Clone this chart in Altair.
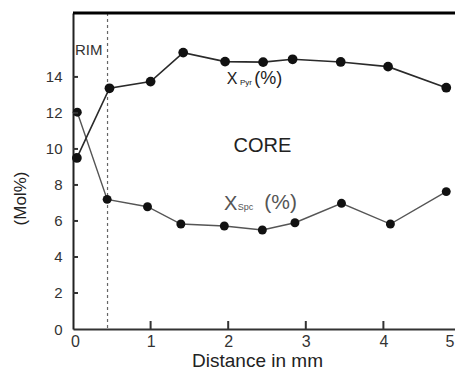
import altair as alt
import pandas as pd

# ---- data ----
pyr_x = [0.05, 0.47, 1.00, 1.42, 1.96, 2.45, 2.83, 3.45, 4.06, 4.81]
pyr_y = [9.50, 13.37, 13.74, 15.35, 14.85, 14.82, 14.98, 14.83, 14.57, 13.40]
spc_x = [0.055, 0.44, 0.96, 1.39, 1.95, 2.44, 2.86, 3.46, 4.09, 4.81]
spc_y = [12.04, 7.20, 6.79, 5.83, 5.72, 5.50, 5.90, 6.98, 5.83, 7.63]
x_ticks = [0, 1, 2, 3, 4, 5]
y_ticks = [0, 2, 4, 6, 8, 10, 12, 14]
rim_x = [0.445]

W, H = 388, 316
FONT = "Liberation Sans"

xs = alt.Scale(domain=[0, 5], nice=False, zero=False)
ys = alt.Scale(domain=[0, 17.55], nice=False, zero=False)

X = alt.X("x:Q", scale=xs, axis=alt.Axis(
    values=x_ticks, format="d", ticks=False, grid=False,
    domainColor="#333", domainWidth=2,
    labelFont=FONT, labelFontSize=16, labelColor="#333", labelPadding=4,
    labelAlign={"expr": "datum.value == 5 ? 'right' : 'center'"},
    labelOffset={"expr": "datum.value == 5 ? -7 : (datum.value == 0 ? 2 : 0)"},
    title="Distance in mm", titleFont=FONT, titleFontSize=19, titleFontWeight="normal",
    titleColor="#222", titleX=184, titleY=37, titleBaseline="alphabetic", titleAnchor="start",
    titleAlign="center"))
Y = alt.Y("y:Q", scale=ys, axis=alt.Axis(
    values=y_ticks, format="d", ticks=False, grid=False,
    domainColor="#222", domainWidth=2,
    labelFont=FONT, labelFontSize=15, labelColor="#333", labelPadding=11,
    title="(Mol%)", titleFont=FONT, titleFontSize=17, titleFontWeight="normal",
    titleColor="#222", titleX=-53, titleY=185, titleAngle=-90,
    titleBaseline="middle", titleAlign="center", titleAnchor="start"))

pyr = pd.DataFrame({"x": pyr_x, "y": pyr_y})
spc = pd.DataFrame({"x": spc_x, "y": spc_y})

pyr_line = alt.Chart(pyr).mark_line(color="#2a2a2a", strokeWidth=1.6).encode(x=X, y=Y)
pyr_pts = alt.Chart(pyr).mark_circle(color="#111", opacity=1, size=95).encode(x=X, y=Y)
spc_line = alt.Chart(spc).mark_line(color="#555", strokeWidth=1.4).encode(x=X, y=Y)
spc_pts = alt.Chart(spc).mark_circle(color="#111", opacity=1, size=80).encode(x=X, y=Y)

rim = alt.Chart(pd.DataFrame({"x": rim_x})).mark_rule(
    color="#666", strokeWidth=1.2, strokeDash=[3, 3]).encode(x=X)

xt = alt.Chart(pd.DataFrame({"x": x_ticks[1:-1]})).mark_rule(
    color="#333", strokeWidth=2).encode(x=X, y=alt.value(H), y2=alt.value(H - 8))
yt = alt.Chart(pd.DataFrame({"y": y_ticks[1:]})).mark_rule(
    color="#333", strokeWidth=2).encode(y=Y, x=alt.value(0), x2=alt.value(5))

top = alt.Chart(pd.DataFrame({"x": [0]})).mark_rule(color="#000", strokeWidth=3).encode(
    y=alt.value(0), x=alt.value(0), x2=alt.value(W))


def txt(s, x, y, size, align="left", color="#222"):
    return alt.Chart(pd.DataFrame({"x": [x], "y": [y], "t": [s]})).mark_text(
        font=FONT, fontSize=size, align=align, baseline="alphabetic", color=color
    ).encode(x=X, y=Y, text="t:N")


ann = [
    txt("RIM", 0.026, 15.22, 15, color="#333"),
    txt("X", 1.98, 13.59, 16),
    txt("Pyr", 2.152, 13.56, 8),
    txt("(%)", 2.336, 13.58, 18),
    txt("CORE", 2.44, 9.85, 20, align="center"),
    txt("X", 1.946, 6.61, 20, color="#555"),
    txt("Spc", 2.122, 6.61, 9, color="#555"),
    txt("(%)", 2.465, 6.67, 21, color="#555"),
]

chart = alt.layer(rim, spc_line, pyr_line, spc_pts, pyr_pts, xt, yt, top, *ann).properties(
    width=W, height=H,
    autosize=alt.AutoSizeParams(type="none"),
    padding={"left": 65, "top": 5, "right": -6, "bottom": 43},
).configure_view(stroke="#c8c8c8", strokeWidth=1).configure(background="white")

chart.save("out.html", embed_options={"renderer": "svg", "actions": False})
